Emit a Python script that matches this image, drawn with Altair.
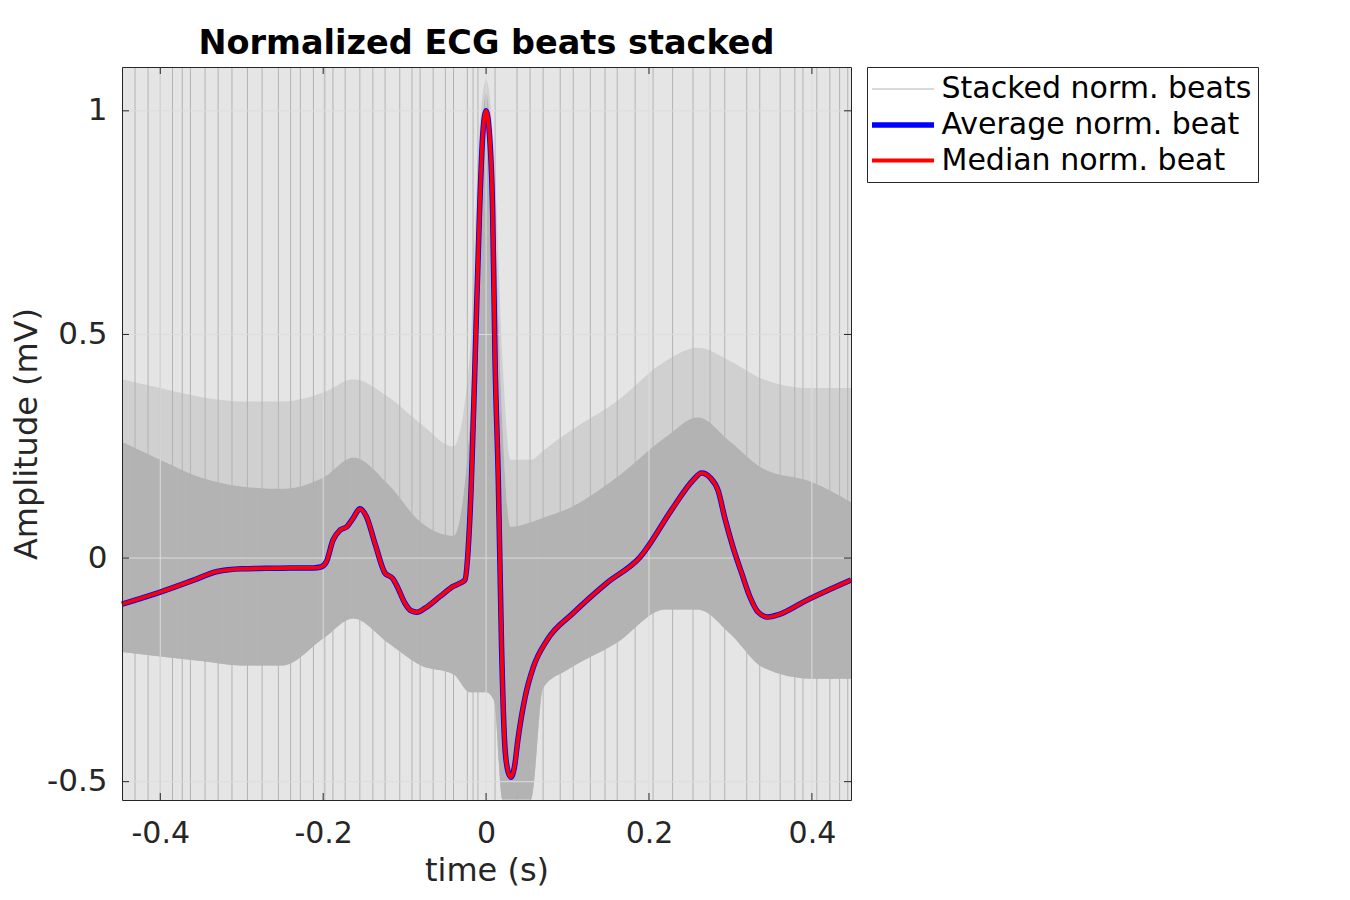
import altair as alt
import pandas as pd

# ---------------- data ----------------
beat_t = [-0.447, -0.40, -0.36, -0.33, -0.30, -0.27, -0.24, -0.212, -0.203, -0.196,
          -0.188, -0.179, -0.171, -0.163, -0.155, -0.147, -0.136, -0.124, -0.115, -0.109,
          -0.100, -0.092, -0.085, -0.075, -0.056, -0.040, -0.032, -0.026, -0.022, -0.018,
          -0.0135, -0.008, -0.004, 0.0, 0.004, 0.008, 0.011, 0.015, 0.019, 0.023,
          0.027, 0.0307, 0.035, 0.039, 0.048, 0.058, 0.075, 0.107, 0.148, 0.189,
          0.23, 0.254, 0.2646, 0.275, 0.285, 0.293, 0.303, 0.314, 0.324, 0.334,
          0.346, 0.36, 0.394, 0.448]
avg_v = [-0.103, -0.076, -0.05, -0.03, -0.024, -0.023, -0.022, -0.022, -0.02, -0.008,
         0.04, 0.063, 0.07, 0.09, 0.11, 0.093, 0.03, -0.034, -0.045, -0.064,
         -0.1, -0.118, -0.121, -0.112, -0.085, -0.063, -0.056, -0.049, 0.02, 0.174,
         0.443, 0.778, 0.95, 1.0, 0.95, 0.778, 0.443, 0.174, -0.2, -0.42,
         -0.478, -0.49, -0.465, -0.407, -0.31, -0.244, -0.183, -0.123, -0.056, 0.002,
         0.114, 0.174, 0.19, 0.18, 0.15, 0.09, 0.025, -0.035, -0.087, -0.121,
         -0.132, -0.126, -0.094, -0.049]
med_v = [-0.103, -0.076, -0.05, -0.03, -0.024, -0.023, -0.022, -0.022, -0.02, -0.008,
         0.04, 0.063, 0.07, 0.09, 0.11, 0.093, 0.03, -0.034, -0.045, -0.064,
         -0.1, -0.118, -0.121, -0.112, -0.085, -0.063, -0.056, -0.049, 0.02, 0.174,
         0.443, 0.778, 0.95, 1.0, 0.95, 0.778, 0.443, 0.174, -0.2, -0.42,
         -0.478, -0.49, -0.465, -0.407, -0.31, -0.244, -0.183, -0.123, -0.056, 0.002,
         0.114, 0.174, 0.19, 0.18, 0.15, 0.09, 0.025, -0.035, -0.087, -0.121,
         -0.132, -0.126, -0.094, -0.049]

# envelope of the stacked beats (dense core and the halo of dense traces above it)
env_t = [-0.447, -0.40, -0.35, -0.30, -0.25, -0.20, -0.163, -0.12, -0.08, -0.04,
         -0.02, -0.01, 0.0, 0.01, 0.02, 0.03, 0.055, 0.07, 0.10, 0.16,
         0.22, 0.26, 0.30, 0.34, 0.40, 0.448]
core_hi = [0.26, 0.22, 0.18, 0.16, 0.155, 0.18, 0.225, 0.165, 0.08, 0.05,
           0.30, 0.80, 1.04, 0.80, 0.30, 0.07, 0.08, 0.09, 0.11, 0.18,
           0.27, 0.315, 0.26, 0.20, 0.17, 0.125]
core_lo = [-0.21, -0.22, -0.23, -0.24, -0.24, -0.18, -0.135, -0.19, -0.24, -0.26,
           -0.30, -0.30, -0.30, -0.32, -0.54, -0.54, -0.54, -0.29, -0.25, -0.19,
           -0.115, -0.115, -0.17, -0.245, -0.27, -0.27]
halo_hi = [0.40, 0.38, 0.36, 0.35, 0.35, 0.37, 0.40, 0.36, 0.30, 0.25,
           0.45, 0.90, 1.07, 0.90, 0.45, 0.22, 0.22, 0.24, 0.28, 0.35,
           0.44, 0.47, 0.44, 0.40, 0.38, 0.38]

# times of the tall single-beat excursions that cross the whole panel
spike_t = [-0.431, -0.415, -0.400, -0.385, -0.373, -0.363, -0.345, -0.329, -0.312, -0.293,
           -0.275, -0.255, -0.240, -0.228, -0.212, -0.198, -0.188, -0.173, -0.155, -0.139,
           -0.124, -0.106, -0.091, -0.081, -0.065, -0.050, -0.040, -0.023, -0.016, -0.010,
           0.011, 0.038, 0.054, 0.070, 0.091, 0.107, 0.128, 0.146, 0.161, 0.183,
           0.205, 0.229, 0.254, 0.275, 0.293, 0.320, 0.336, 0.361, 0.379, 0.389,
           0.406, 0.422, 0.434, 0.444]

x_ticks = [-0.4, -0.2, 0, 0.2, 0.4]
y_ticks = [-0.5, 0, 0.5, 1]

series = ["Stacked norm. beats", "Average norm. beat", "Median norm. beat"]
series_colors = ["#b3b3b3", "#0000ff", "#ff0000"]
series_widths = [1, 5.5, 3.8]

# ---------------- chart ----------------
W, H = 729, 733
FONT = "DejaVu Sans"
INK = "#262626"
X_DOMAIN = [-0.447, 0.448]
Y_DOMAIN = [-0.541, 1.098]

df_avg = pd.DataFrame({"t": beat_t, "v": avg_v, "series": series[1]})
df_med = pd.DataFrame({"t": beat_t, "v": med_v, "series": series[2]})
df_env = pd.DataFrame({"t": env_t, "hi": core_hi, "lo": core_lo, "halo": halo_hi})
df_spk = pd.DataFrame({"t": spike_t, "series": series[0]})
df_xt = pd.DataFrame({"tick": x_ticks})
df_yt = pd.DataFrame({"tick": y_ticks})

xs = alt.Scale(domain=X_DOMAIN, nice=False, zero=False)
ys = alt.Scale(domain=Y_DOMAIN, nice=False, zero=False)


def make_legend():
    # a horizontal stroke twice as long as the symbol box
    return alt.Legend(
        orient="none", legendX=745, legendY=0, title=None,
        symbolType="M-2,0H2", symbolSize=961, symbolOffset=11.5,
        labelFont=FONT, labelFontSize=30, labelColor="#000000", labelLimit=500,
        labelOffset=20, strokeColor=INK, fillColor="#ffffff", padding=6, rowPadding=2.5,
    )


color = alt.Color("series:N", scale=alt.Scale(domain=series, range=series_colors),
                  legend=make_legend())
width_enc = alt.StrokeWidth("series:N",
                            scale=alt.Scale(type="ordinal", domain=series, range=series_widths),
                            legend=make_legend())

x_axis = alt.Axis(orient="bottom", values=x_ticks, labelExpr="toString(datum.value)",
                  ticks=False, tickSize=0, grid=False, domainColor=INK, zindex=1,
                  labelFont=FONT, labelFontSize=30, labelColor=INK, labelPadding=33,
                  labelBaseline="middle", title="time (s)", titleFont=FONT,
                  titleFontSize=32, titleFontWeight="normal", titleColor=INK,
                  titleX=W / 2, titleY=70, titleBaseline="middle", titleAlign="center")
y_axis = alt.Axis(orient="left", values=y_ticks, labelExpr="toString(datum.value)",
                  ticks=False, tickSize=0, grid=False, domainColor=INK, zindex=1,
                  labelFont=FONT, labelFontSize=31, labelColor=INK, labelPadding=15,
                  labelBaseline="middle", labelAlign="right",
                  title="Amplitude (mV)", titleFont=FONT, titleFontSize=32,
                  titleFontWeight="normal", titleColor=INK, titleX=-96, titleY=H / 2,
                  titleAngle=270, titleAlign="center", titleBaseline="middle")
top_axis = alt.Axis(orient="top", labels=False, ticks=False, tickSize=0, grid=False,
                    domainColor=INK, zindex=1, title=None)
right_axis = alt.Axis(orient="right", labels=False, ticks=False, tickSize=0, grid=False,
                      domainColor=INK, zindex=1, title=None)

halo_band = alt.Chart(df_env).mark_area(color="#d0d0d0", clip=True, interpolate="monotone").encode(
    x=alt.X("t:Q", scale=xs, axis=None), y=alt.Y("halo:Q", scale=ys, axis=None), y2="hi:Q")
lower_band = alt.Chart(df_env).mark_area(color="#c4c4c4", clip=True, interpolate="monotone").encode(
    x=alt.X("t:Q", scale=xs, axis=None), y=alt.Y("lo:Q", scale=ys, axis=None), y2=alt.value(H))
core_band = alt.Chart(df_env).mark_area(color="#b3b3b3", clip=True, interpolate="monotone").encode(
    x=alt.X("t:Q", scale=xs, axis=None), y=alt.Y("hi:Q", scale=ys, axis=None), y2="lo:Q")
spikes = alt.Chart(df_spk).mark_rule().encode(
    x=alt.X("t:Q", scale=xs, axis=None), y=alt.value(0), y2=alt.value(H),
    color=color, strokeWidth=width_enc)
vgrid = alt.Chart(df_xt).mark_rule(color="#dcdcdc", strokeWidth=1).encode(
    x=alt.X("tick:Q", scale=xs, axis=top_axis), y=alt.value(0), y2=alt.value(H))
hgrid = alt.Chart(df_yt).mark_rule(color="#dcdcdc", strokeWidth=1).encode(
    y=alt.Y("tick:Q", scale=ys, axis=right_axis), x=alt.value(0), x2=alt.value(W))
avg_line = alt.Chart(df_avg).mark_line(interpolate="monotone").encode(
    x=alt.X("t:Q", scale=xs, axis=x_axis), y=alt.Y("v:Q", scale=ys, axis=y_axis),
    color=color, strokeWidth=width_enc)
med_line = alt.Chart(df_med).mark_line(interpolate="monotone").encode(
    x=alt.X("t:Q", scale=xs, axis=None), y=alt.Y("v:Q", scale=ys, axis=None),
    color=color, strokeWidth=width_enc)

tick_b = alt.Chart(df_xt).mark_rule(color=INK).encode(
    x=alt.X("tick:Q", scale=xs, axis=None), y=alt.value(H), y2=alt.value(H - 7))
tick_t = alt.Chart(df_xt).mark_rule(color=INK).encode(
    x=alt.X("tick:Q", scale=xs, axis=None), y=alt.value(0), y2=alt.value(7))
tick_l = alt.Chart(df_yt).mark_rule(color=INK).encode(
    y=alt.Y("tick:Q", scale=ys, axis=None), x=alt.value(0), x2=alt.value(7))
tick_r = alt.Chart(df_yt).mark_rule(color=INK).encode(
    y=alt.Y("tick:Q", scale=ys, axis=None), x=alt.value(W), x2=alt.value(W - 7))

chart = alt.layer(
    halo_band, lower_band, core_band, spikes, vgrid, hgrid, avg_line, med_line,
    tick_b, tick_t, tick_l, tick_r,
).resolve_axis(x="independent", y="independent").properties(
    width=W, height=H,
    padding={"left": 114, "top": 59, "right": 420, "bottom": 90},
    autosize=alt.AutoSizeParams(type="none"),
    title=alt.TitleParams("Normalized ECG beats stacked", font=FONT, fontSize=33.5,
                          fontWeight="bold", color="#000000", anchor="middle",
                          baseline="alphabetic", offset=12, dy=33),
).configure_view(fill="#e5e5e5", strokeWidth=0)

chart.save("out.html", embed_options={"renderer": "svg", "actions": False})
